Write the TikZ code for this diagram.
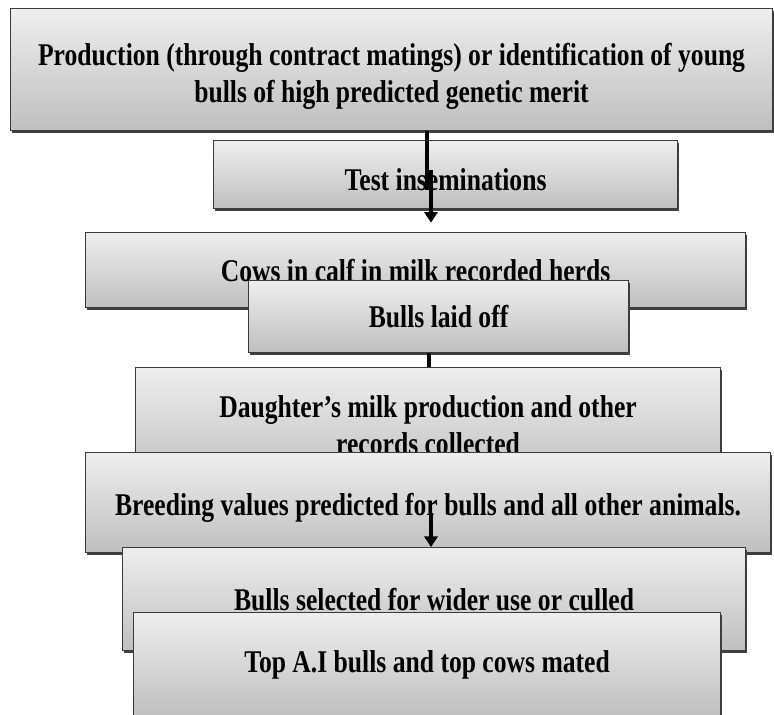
\documentclass[tikz,border=0pt]{standalone}
\usepackage{fontspec}
\usepackage{tikz}
\usetikzlibrary{arrows.meta, shadows}
\newfontfamily\stagefont[FakeStretch=0.81]{Liberation Serif}
\definecolor{stagetop}{HTML}{EEEEEE}
\definecolor{stagebot}{HTML}{BFBFBF}
\definecolor{stageline}{HTML}{3A3A3A}

\begin{document}
\begin{tikzpicture}[x=0.02cm, y=-0.02cm,
      stage/.style={draw=stageline, line width=0.7pt, top color=stagetop, bottom color=stagebot,
                    drop shadow={shadow xshift=0.6pt, shadow yshift=-1.6pt, opacity=1, fill=black!75},
                    anchor=north west, align=center, inner sep=0pt,
                    font=\stagefont\bfseries\fontsize{18}{21}\selectfont},
      arr/.style={-{Triangle[length=6pt, width=7.5pt]}, line width=2.4pt, black},
      stub/.style={line width=2.4pt, black}]
    \useasboundingbox (0,0) rectangle (774,714);
    \node[stage, text height=37pt, text depth=0pt, minimum width=15.24cm, minimum height=2.44cm] (prod) at (10,8)
      {Production (through contract matings) or identification of young\\bulls of high predicted genetic merit};
    \node[stage, text height=18pt, text depth=0pt, minimum width=9.28cm, minimum height=1.36cm] (test) at (213,140)
      {Test inseminations};
    \coordinate (a1) at (427,0);
    \coordinate (a2) at (431,0);
    \draw[stub] (prod.south -| a1) -- ([yshift=-0.3cm]test.center -| a1);
    \draw[arr] ([yshift=0.1cm]test.center -| a2) -- ++(0,53);
    \node[stage, minimum width=13.2cm, minimum height=1.5cm] (cows) at (85,232) {Cows in calf in milk recorded herds};
    \node[stage, minimum width=7.6cm, minimum height=1.44cm] (laid) at (248,280) {Bulls laid off};
    \coordinate (a3) at (429,0);
    \draw[stub] (laid.south -| a3) -- ++(0,30);
    \node[stage, minimum width=11.7cm, minimum height=2.32cm] (daughter) at (135,367)
      {Daughter’s milk production and other\\records collected};
    \node[stage, text height=15pt, text depth=0pt, minimum width=13.7cm, minimum height=2.0cm] (breed) at (85,452)
      {Breeding values predicted for bulls and all other animals.};
    \node[stage, minimum width=12.46cm, minimum height=2.06cm] (select) at (122,547)
      {Bulls selected for wider use or culled};
    \coordinate (a4) at (431,0);
    \draw[arr] ([yshift=-0.2cm]breed.center -| a4) -- (select.north -| a4);
    \node[stage, minimum width=11.74cm, minimum height=2.08cm] (mated) at (133,612)
      {Top A.I bulls and top cows mated};
  \end{tikzpicture}
\end{document}
